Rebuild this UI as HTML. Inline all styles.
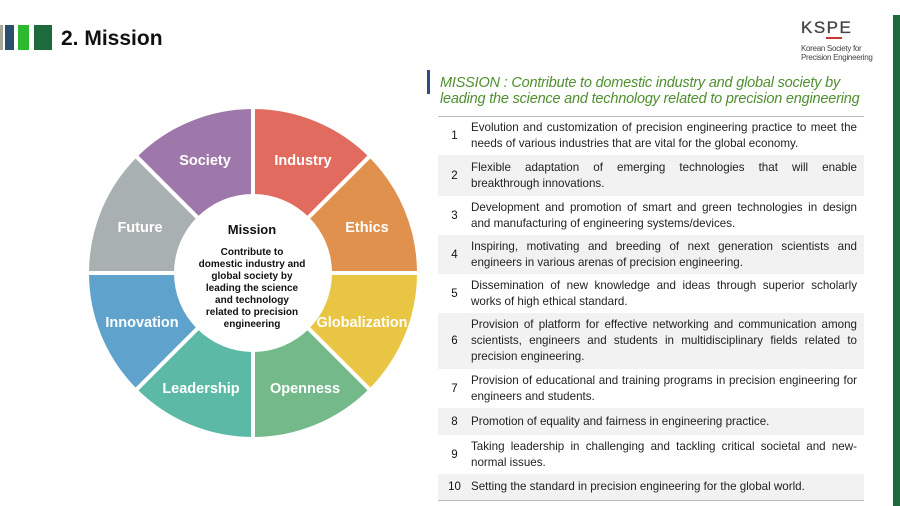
<!DOCTYPE html>
<html><head><meta charset="utf-8"><style>
*{margin:0;padding:0;box-sizing:border-box}
body{width:900px;height:506px;background:#fff;position:relative;overflow:hidden;font-family:"Liberation Sans",sans-serif}
.abs{position:absolute}
.row{position:absolute;left:438px;width:426px;display:flex;align-items:center}
.row.s{background:#f2f2f2}
.num{width:33px;text-align:center;font-size:11.5px;color:#111}
.txt{width:386px;font-size:11.6px;line-height:16px;color:#222;text-align:justify;letter-spacing:0}
.j{display:block;text-align:justify;text-align-last:justify}
</style></head><body>
<div class="abs" style="left:0;top:25px;width:3px;height:25px;background:#a8a89a"></div>
<div class="abs" style="left:5px;top:25px;width:9px;height:25px;background:#2a4e6e"></div>
<div class="abs" style="left:18px;top:25px;width:11px;height:25px;background:#2eb82e"></div>
<div class="abs" style="left:34px;top:25px;width:18px;height:25px;background:#1d6b3a"></div>
<div class="abs" style="left:61px;top:27px;font-size:21px;font-weight:bold;color:#111">2. Mission</div>

<div class="abs" style="left:893px;top:15px;width:7px;height:491px;background:#1d6b3a"></div>

<svg class="abs" style="left:800px;top:18px" width="80" height="30">
<text x="1" y="15" font-size="17" font-family="Liberation Sans" fill="#444" letter-spacing="1.5" stroke="#444" stroke-width="0.3">KSPE</text>
<rect x="26" y="19" width="16" height="2" fill="#c33"/>
</svg>
<div class="abs" style="left:801px;top:44px;font-size:8px;line-height:9px;color:#444;letter-spacing:-0.3px">Korean Society for<br>Precision Engineering</div>

<div class="abs" style="left:427px;top:70px;width:3px;height:24px;background:#2a4e7e"></div>
<div class="abs" style="left:440px;top:75px;font-size:14.5px;line-height:16px;font-style:italic;color:#4f8f2f;letter-spacing:-0.2px">MISSION : Contribute to domestic industry and global society by<br>leading the science and technology related to precision engineering</div>

<div class="abs" style="left:438px;top:116px;width:426px;height:1px;background:#bbb"></div>
<div class="row" style="top:117px;height:38px"><div class="num">1</div><div class="txt">Evolution and customization of precision engineering practice to meet the needs of various industries that are vital for the global economy.</div></div>
<div class="row s" style="top:155px;height:41px"><div class="num">2</div><div class="txt"><span class="j">Flexible adaptation of emerging technologies that will enable</span>breakthrough innovations.</div></div>
<div class="row" style="top:196px;height:39px"><div class="num">3</div><div class="txt">Development and promotion of smart and green technologies in design and manufacturing of engineering systems/devices.</div></div>
<div class="row s" style="top:235px;height:39px"><div class="num">4</div><div class="txt">Inspiring, motivating and breeding of next generation scientists and engineers in various arenas of precision engineering.</div></div>
<div class="row" style="top:274px;height:39px"><div class="num">5</div><div class="txt">Dissemination of new knowledge and ideas through superior scholarly works of high ethical standard.</div></div>
<div class="row s" style="top:313px;height:56px"><div class="num">6</div><div class="txt">Provision of platform for effective networking and communication among scientists, engineers and students in multidisciplinary fields related to precision engineering.</div></div>
<div class="row" style="top:369px;height:39px"><div class="num">7</div><div class="txt">Provision of educational and training programs in precision engineering for engineers and students.</div></div>
<div class="row s" style="top:408px;height:27px"><div class="num">8</div><div class="txt">Promotion of equality and fairness in engineering practice.</div></div>
<div class="row" style="top:435px;height:39px"><div class="num">9</div><div class="txt">Taking leadership in challenging and tackling critical societal and new-normal issues.</div></div>
<div class="row s" style="top:474px;height:26px"><div class="num">10</div><div class="txt">Setting the standard in precision engineering for the global world.</div></div>
<div class="abs" style="left:438px;top:500px;width:426px;height:1px;background:#bbb"></div>

<svg class="abs" style="left:0;top:0" width="430" height="506">
<g stroke="#fff" stroke-width="4" stroke-linejoin="round">
<path d="M253,273 L253,107 A166,166 0 0 1 370.4,155.6 Z" fill="#e06b5e"/>
<path d="M253,273 L370.4,155.6 A166,166 0 0 1 419,273 Z" fill="#e0914e"/>
<path d="M253,273 L419,273 A166,166 0 0 1 370.4,390.4 Z" fill="#e8c644"/>
<path d="M253,273 L370.4,390.4 A166,166 0 0 1 253,439 Z" fill="#73b98a"/>
<path d="M253,273 L253,439 A166,166 0 0 1 135.6,390.4 Z" fill="#5cb9a6"/>
<path d="M253,273 L135.6,390.4 A166,166 0 0 1 87,273 Z" fill="#5fa3cc"/>
<path d="M253,273 L87,273 A166,166 0 0 1 135.6,155.6 Z" fill="#a9b0b1"/>
<path d="M253,273 L135.6,155.6 A166,166 0 0 1 253,107 Z" fill="#9e78aa"/>
</g>
<circle cx="253" cy="273" r="79" fill="#fff"/>
<g fill="#fff" font-size="14.5" font-weight="bold" text-anchor="middle" font-family="Liberation Sans">
<text x="303" y="165">Industry</text>
<text x="367" y="232">Ethics</text>
<text x="362" y="327">Globalization</text>
<text x="305" y="393">Openness</text>
<text x="201" y="393">Leadership</text>
<text x="142" y="327">Innovation</text>
<text x="140" y="232">Future</text>
<text x="205" y="165">Society</text>
</g>
<g fill="#111" font-weight="bold" text-anchor="middle" font-family="Liberation Sans">
<text x="252" y="234" font-size="13">Mission</text>
<g font-size="10">
<text x="252" y="255">Contribute to</text>
<text x="252" y="267">domestic industry and</text>
<text x="252" y="279">global society by</text>
<text x="252" y="291">leading the science</text>
<text x="252" y="303">and technology</text>
<text x="252" y="315">related to precision</text>
<text x="252" y="327">engineering</text>
</g></g>
</svg>
</body></html>
